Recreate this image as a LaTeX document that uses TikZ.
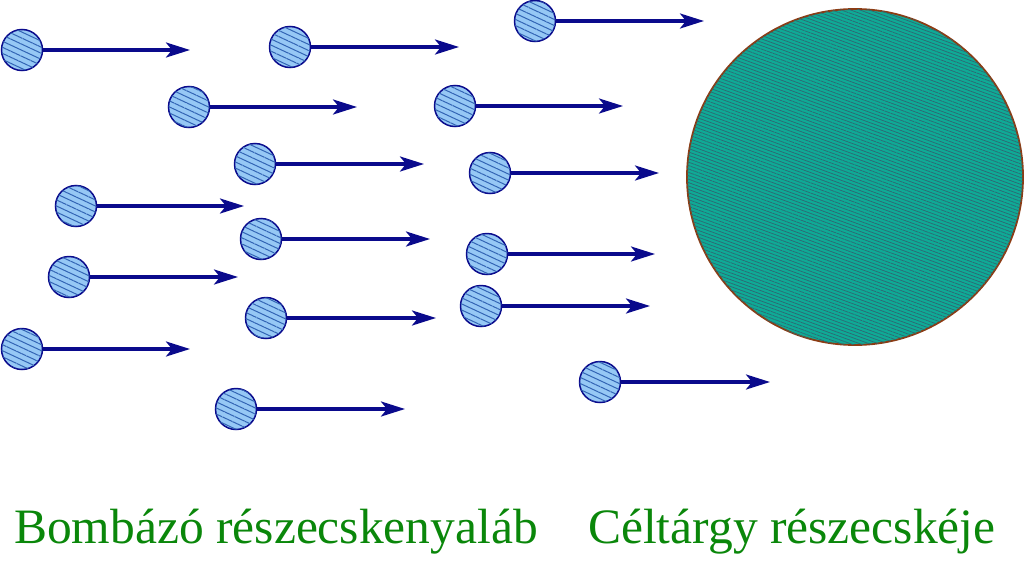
\documentclass[tikz,border=0pt]{standalone}
\usepackage{fontspec}
\setmainfont{Liberation Serif}
\usetikzlibrary{arrows.meta,patterns.meta}
\definecolor{navy}{RGB}{10,10,140}
\definecolor{pfill}{RGB}{150,200,245}
\definecolor{phatch}{RGB}{50,100,180}
\definecolor{tfill}{RGB}{15,170,150}
\definecolor{thatch}{RGB}{45,105,115}
\definecolor{tborder}{RGB}{140,60,20}
\definecolor{lgreen}{RGB}{10,135,10}
\tikzset{
  particle/.style={circle,draw=navy,line width=1.5pt,fill=pfill,inner sep=0pt,minimum size=41pt,
    postaction={pattern={Lines[angle=-25,distance=5.5pt,line width=1pt]},pattern color=phatch}},
  arr/.style={draw=navy,line width=3.2pt,-{Stealth[length=24pt,width=15pt,inset=6pt]}},
  target/.style={circle,draw=tborder,line width=1.8pt,fill=tfill,inner sep=0pt,minimum size=336pt,
    postaction={pattern={Lines[angle=-20,distance=3.2pt,line width=0.7pt]},pattern color=thatch}},
  lbl/.style={text=lgreen,font=\fontsize{49.5}{56}\selectfont,inner sep=0pt}
}
\begin{document}
\begin{tikzpicture}[x=1pt,y=-1pt]
\useasboundingbox (0,0) rectangle (1024,562);
\node[target] (T) at (855,177) {};
\foreach \i/\cx/\cy/\tx in {1/22/50/190, 2/290/47/459, 3/535/21/704, 4/189/107/357, 5/455/106/623,
  6/255/164/424, 7/490/173/659, 8/76/206/244, 9/261/239/430, 10/487/254/655, 11/69/277/238,
  12/266/318/436, 13/481/306/650, 14/22/349/190, 15/236/409/405, 16/600/382/770}{
  \node[particle] (p\i) at (\cx,\cy) {};
  \coordinate (t\i) at (\tx,\cy);
  \draw[arr] (p\i.east) -- (t\i);
}
\node[lbl,anchor=base west] (L1) at (14,543) {Bombázó részecskenyaláb};
\node[lbl,anchor=base west] (L2) at (588,543) {Céltárgy részecskéje};
\end{tikzpicture}
\end{document}
